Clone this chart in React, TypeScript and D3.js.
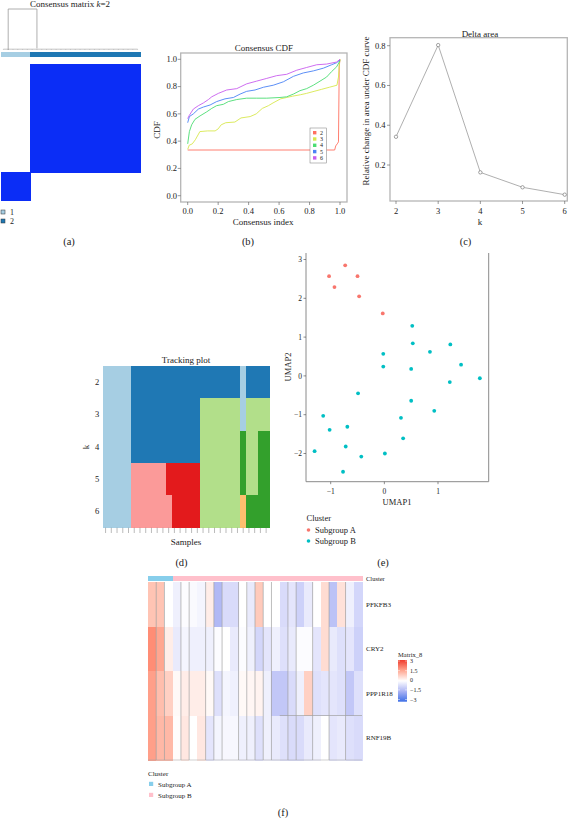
import React from 'react';
import * as d3 from 'd3';

const FONT = '"Liberation Serif", "Times New Roman", serif';

// ---------- (a) consensus matrix, k = 2 ----------
const matrixLabels = [1, 1, 1, 1, 1, 1, 2, 2, 2, 2, 2, 2, 2, 2, 2, 2, 2, 2, 2, 2, 2, 2, 2, 2, 2, 2, 2, 2, 2];
const matrixClusterColors = ['#A6CEE3', '#1F78B4'];
const dendroBranches = [1.5, 7.5]; // merge positions, in sample units
const matrixLegend = ['1', '2'];

// ---------- (b) consensus CDF ----------
const cdfK = ['2', '3', '4', '5', '6'];
const cdfColors = ['#FF7060', '#D8E84E', '#4BDD72', '#4A82F5', '#C85DEE'];
const cdfK2: [number, number][] = [
  [0, 0.335], [0.965, 0.335], [0.972, 0.365], [0.985, 0.385], [0.99, 0.395], [0.995, 0.95], [1, 1],
];
const cdfK3: [number, number][] = [
  [0, 0.34], [0.01, 0.37], [0.03, 0.38], [0.05, 0.41], [0.08, 0.47], [0.13, 0.475], [0.18, 0.475],
  [0.2, 0.49], [0.22, 0.52], [0.25, 0.535], [0.31, 0.54], [0.35, 0.57], [0.41, 0.58], [0.45, 0.6],
  [0.49, 0.64], [0.53, 0.66], [0.56, 0.68], [0.61, 0.71], [0.65, 0.72], [0.69, 0.73], [0.74, 0.74],
  [0.78, 0.75], [0.83, 0.765], [0.88, 0.78], [0.93, 0.795], [0.98, 0.81], [0.99, 0.87], [0.996, 0.97], [1, 1],
];
const cdfK4: [number, number][] = [
  [0, 0.38], [0.011, 0.47], [0.026, 0.52], [0.048, 0.56], [0.081, 0.585], [0.125, 0.615], [0.158, 0.64],
  [0.19, 0.66], [0.234, 0.67], [0.267, 0.69], [0.322, 0.705], [0.387, 0.715], [0.453, 0.715], [0.519, 0.715],
  [0.606, 0.72], [0.65, 0.725], [0.694, 0.745], [0.737, 0.77], [0.781, 0.785], [0.825, 0.81], [0.869, 0.84],
  [0.912, 0.87], [0.945, 0.91], [0.978, 0.945], [1, 0.99],
];
const cdfK5: [number, number][] = [
  [0, 0.535], [0.011, 0.58], [0.037, 0.6], [0.07, 0.635], [0.103, 0.65], [0.147, 0.665], [0.19, 0.69],
  [0.245, 0.71], [0.3, 0.72], [0.344, 0.745], [0.387, 0.765], [0.442, 0.775], [0.497, 0.795], [0.562, 0.81],
  [0.628, 0.835], [0.694, 0.875], [0.759, 0.9], [0.825, 0.915], [0.891, 0.935], [0.945, 0.96], [0.978, 0.975], [1, 0.995],
];
const cdfK6: [number, number][] = [
  [0, 0.565], [0.011, 0.59], [0.037, 0.635], [0.07, 0.66], [0.103, 0.68], [0.136, 0.705], [0.158, 0.725],
  [0.201, 0.75], [0.256, 0.775], [0.322, 0.785], [0.387, 0.82], [0.453, 0.84], [0.519, 0.86], [0.584, 0.88],
  [0.65, 0.89], [0.716, 0.92], [0.781, 0.94], [0.847, 0.96], [0.912, 0.965], [0.978, 0.98], [1, 1],
];
const cdfSeries = [cdfK2, cdfK3, cdfK4, cdfK5, cdfK6];
const cdfTicks = [0, 0.2, 0.4, 0.6, 0.8, 1.0];

// ---------- (c) delta area ----------
const deltaK = [2, 3, 4, 5, 6];
const deltaValues = [0.342, 0.803, 0.163, 0.088, 0.051];
const deltaTicks = [0.2, 0.4, 0.6, 0.8];

// ---------- (d) tracking plot ----------
const trackK = [2, 3, 4, 5, 6];
const trackK2 = [1, 1, 1, 1, 1, 2, 2, 2, 2, 2, 2, 2, 2, 2, 2, 2, 2, 2, 2, 2, 2, 2, 2, 2, 1, 2, 2, 2, 2];
const trackK3 = [1, 1, 1, 1, 1, 2, 2, 2, 2, 2, 2, 2, 2, 2, 2, 2, 2, 3, 3, 3, 3, 3, 3, 3, 1, 3, 3, 3, 3];
const trackK4 = [1, 1, 1, 1, 1, 2, 2, 2, 2, 2, 2, 2, 2, 2, 2, 2, 2, 3, 3, 3, 3, 3, 3, 3, 4, 3, 3, 4, 4];
const trackK5 = [1, 1, 1, 1, 1, 5, 5, 5, 5, 5, 5, 6, 6, 6, 6, 6, 6, 3, 3, 3, 3, 3, 3, 3, 4, 3, 3, 4, 4];
const trackK6 = [1, 1, 1, 1, 1, 5, 5, 5, 5, 5, 5, 5, 6, 6, 6, 6, 6, 3, 3, 3, 3, 3, 3, 3, 7, 4, 4, 4, 4];
const trackRows = [trackK2, trackK3, trackK4, trackK5, trackK6];
const trackColors = ['#A6CEE3', '#1F78B4', '#B2DF8A', '#33A02C', '#FB9A99', '#E31A1C', '#FDBF6F'];

// ---------- (e) UMAP ----------
const umapA: [number, number][] = [
  [-1.03, 2.57], [-0.93, 2.29], [-0.73, 2.85], [-0.5, 2.57], [-0.47, 2.05], [-0.03, 1.61],
];
const umapB: [number, number][] = [
  [0.52, 1.29], [0.53, 0.84], [0.85, 0.62], [1.23, 0.81], [-0.02, 0.57], [-0.02, 0.24], [0.5, 0.18],
  [1.43, 0.29], [1.78, -0.06], [1.22, -0.16], [-0.49, -0.45], [0.5, -0.64], [0.93, -0.9], [0.31, -1.08],
  [-1.14, -1.03], [-1.02, -1.39], [-0.69, -1.31], [0.35, -1.61], [-0.72, -1.82], [-1.3, -1.94],
  [-0.43, -2.08], [0.01, -2.0], [-0.77, -2.47],
];
const umapXTicks = [-1, 0, 1];
const umapYTicks = [-2, -1, 0, 1, 2, 3];
const subgroupNames = ['Subgroup A', 'Subgroup B'];
const umapColors = ['#F8766D', '#00BFC4'];

// ---------- (f) heatmap ----------
const genes = ['PFKFB3', 'CRY2', 'PPP1R18', 'RNF19B'];
const heatCluster = ['A', 'A', 'A', ...Array(23).fill('B')];
const rowPFKFB3 = [1.0, 1.0, 0, -0.3, -0.05, -0.1, -0.2, 0.3, -1.4, -0.7, -0.7, 0, -0.4, 0.9, 0, 0, -0.7, -0.5, -0.9, -0.4, 0, 0.6, -1.2, 0.5, -0.3, -0.8];
const rowCRY2 = [1.9, 1.5, 0.3, -0.4, -0.2, -0.3, -0.3, -0.3, -0.05, 0, -0.4, -0.05, -0.3, -0.8, -0.5, -0.3, -0.6, -0.4, -0.05, -0.05, -0.5, 0.6, -0.4, -0.6, -0.5, -0.9];
const rowPPP1R18 = [1.6, 1.1, 0.8, 0.1, 0.3, 0.3, 0.3, 0.1, -0.6, -0.2, -0.3, 0.1, 0.15, 0.2, -0.3, -1.1, -1.1, -0.7, -0.3, 0.8, -0.6, -0.5, -0.5, -0.6, -1.1, -0.6];
const rowRNF19B = [1.6, 1.2, 1.2, 0.05, 0.4, 0, 0.4, -0.5, -0.2, -0.15, -0.15, -0.3, -0.3, -0.6, -0.3, -0.4, -0.6, -0.7, -0.7, -0.4, -0.3, 0, -0.5, -0.4, -0.6, -0.7];
const heatRows = [rowPFKFB3, rowCRY2, rowPPP1R18, rowRNF19B];
const heatSplits = [1, 2, 4, 5, 7, 8, 9, 11, 12, 13, 14, 15, 17, 18, 20, 22, 24];
const heatLegendTicks = [3, 1.5, 0, -1.5, -3];
const annoColors: Record<string, string> = { A: '#87CEEB', B: '#FFC0CB' };

const gray = '#9a9a9a';

function PanelA() {
  const n = matrixLabels.length;
  const x = d3.scaleBand<number>().domain(d3.range(n)).range([1, 140]);
  const rowOrder = [...d3.range(n).filter(i => matrixLabels[i] === 2), ...d3.range(n).filter(i => matrixLabels[i] === 1)];
  const y = d3.scaleBand<number>().domain(rowOrder).range([64, 200]);
  const fill = d3.scaleLinear<string>().domain([0, 1]).range(['#ffffff', '#0B2DF6']);
  const dh = d3.scaleLinear().domain([0, 1]).range([50, 9]);
  const bw = x.bandwidth();
  const pos = (p: number) => (x(0) as number) + p * bw;
  return (
    <g>
      <text x={70} y={7} textAnchor="middle" fontSize={9}>
        Consensus matrix <tspan fontStyle="italic">k</tspan>=2
      </text>
      {/* dendrogram */}
      <g stroke={gray} strokeWidth={0.8} fill="none">
        <path d={`M${pos(dendroBranches[0])},${dh(0)}V${dh(1)}H${pos(dendroBranches[1])}V${dh(0.04)}`} />
        <line x1={pos(0.5)} x2={pos(n - 0.5)} y1={dh(0.02)} y2={dh(0.02)} strokeWidth={0.6} />
        {d3.range(n).map(i => (
          <line key={i} x1={pos(i + 0.5)} x2={pos(i + 0.5)} y1={dh(0)} y2={dh(0.02)} strokeWidth={0.4} />
        ))}
      </g>
      {/* cluster colour bar */}
      <g shapeRendering="crispEdges">
        {matrixLabels.map((l, i) => (
          <rect key={i} x={x(i)} y={52} width={bw + 0.6} height={5} fill={matrixClusterColors[l - 1]} />
        ))}
      </g>
      {/* matrix cells */}
      <g shapeRendering="crispEdges">
        {rowOrder.map(r =>
          d3.range(n).map(c => {
            const v = matrixLabels[r] === matrixLabels[c] ? 1 : 0;
            if (v === 0) return null;
            return (
              <rect key={`${r}-${c}`} x={x(c)} y={y(r)} width={bw + 1} height={y.bandwidth() + 1} fill={fill(v)} />
            );
          })
        )}
      </g>
      {matrixLegend.map((t, i) => (
        <g key={t} transform={`translate(0,${210 + i * 9})`}>
          <rect x={1} y={0} width={4} height={4} fill={matrixClusterColors[i]} stroke="#333" strokeWidth={0.5} />
          <text x={10} y={4.5} fontSize={8}>{t}</text>
        </g>
      ))}
      <text x={69} y={244.5} textAnchor="middle" fontSize={10.5}>(a)</text>
    </g>
  );
}

function PanelB() {
  const x = d3.scaleLinear().domain([0, 1]).range([187.7, 340]);
  const y = d3.scaleLinear().domain([0, 1]).range([195.7, 59.3]);
  const line = d3.line<[number, number]>().x(d => x(d[0])).y(d => y(d[1]));
  const box = { x0: 180.7, x1: 347, y0: 53, y1: 202 };
  return (
    <g>
      <text x={264} y={51} textAnchor="middle" fontSize={9}>Consensus CDF</text>
      <rect x={box.x0} y={box.y0} width={box.x1 - box.x0} height={box.y1 - box.y0} fill="none" stroke="#b5b5b5" strokeWidth={1.3} />
      {cdfSeries.map((s, i) => (
        <path key={i} d={line(s) as string} fill="none" stroke={cdfColors[i]} strokeWidth={0.9} />
      ))}
      {cdfTicks.map(t => (
        <g key={`x${t}`}>
          <line x1={x(t)} x2={x(t)} y1={box.y1} y2={box.y1 + 3} stroke="#555" strokeWidth={0.6} />
          <text x={x(t)} y={213.8} textAnchor="middle" fontSize={8.5}>{t.toFixed(1)}</text>
        </g>
      ))}
      {cdfTicks.map(t => (
        <g key={`y${t}`}>
          <line x1={box.x0} x2={box.x0 - 3} y1={y(t)} y2={y(t)} stroke="#555" strokeWidth={0.6} />
          <text x={177} y={y(t) + 2.9} textAnchor="end" fontSize={8.5}>{t.toFixed(1)}</text>
        </g>
      ))}
      <text x={263} y={225} textAnchor="middle" fontSize={9}>Consensus index</text>
      <text transform={`translate(160,130) rotate(-90)`} textAnchor="middle" fontSize={9}>CDF</text>
      {/* legend */}
      <rect x={310} y={128} width={16.7} height={35} fill="#fff" stroke="#777" strokeWidth={0.5} />
      {cdfK.map((k, i) => (
        <g key={k} transform={`translate(313,${132.7 + i * 6.3})`}>
          <rect x={0} y={-1.7} width={3.4} height={3.4} fill={cdfColors[i]} />
          <text x={7} y={2.1} fontSize={6}>{k}</text>
        </g>
      ))}
      <text x={248} y={244.5} textAnchor="middle" fontSize={10.5}>(b)</text>
    </g>
  );
}

function PanelC() {
  const x = d3.scaleLinear().domain([2, 6]).range([396, 564.7]);
  const y = d3.scaleLinear().domain([0, 0.8]).range([204.8, 45.7]);
  const pts = deltaK.map((k, i) => [k, deltaValues[i]] as [number, number]);
  const line = d3.line<[number, number]>().x(d => x(d[0])).y(d => y(d[1]));
  const box = { x0: 390, x1: 567.3, y0: 37.7, y1: 201 };
  return (
    <g>
      <text x={480} y={36.5} textAnchor="middle" fontSize={9}>Delta area</text>
      <rect x={box.x0} y={box.y0} width={box.x1 - box.x0} height={box.y1 - box.y0} fill="none" stroke="#b5b5b5" strokeWidth={1.3} />
      <path d={line(pts) as string} fill="none" stroke="#9a9a9a" strokeWidth={0.8} />
      {pts.map((p, i) => (
        <circle key={i} cx={x(p[0])} cy={y(p[1])} r={1.7} fill="#fff" stroke="#666" strokeWidth={0.6} />
      ))}
      {deltaK.map(k => (
        <g key={k}>
          <line x1={x(k)} x2={x(k)} y1={box.y1} y2={box.y1 + 3} stroke="#555" strokeWidth={0.6} />
          <text x={x(k)} y={213.8} textAnchor="middle" fontSize={8.5}>{k}</text>
        </g>
      ))}
      {deltaTicks.map(t => (
        <g key={t}>
          <line x1={box.x0} x2={box.x0 - 3} y1={y(t)} y2={y(t)} stroke="#555" strokeWidth={0.6} />
          <text x={385.5} y={y(t) + 2.9} textAnchor="end" fontSize={8.5}>{t.toFixed(1)}</text>
        </g>
      ))}
      <text x={480} y={225} textAnchor="middle" fontSize={9}>k</text>
      <text transform={`translate(368.5,111) rotate(-90)`} textAnchor="middle" fontSize={9}>
        Relative change in area under CDF curve
      </text>
      <text x={465.5} y={244.5} textAnchor="middle" fontSize={10.5}>(c)</text>
    </g>
  );
}

function PanelD() {
  const n = trackK2.length;
  const x = d3.scaleBand<number>().domain(d3.range(n)).range([102.7, 269]);
  const y = d3.scaleBand<number>().domain(trackK).range([366, 527.7]);
  const bw = x.bandwidth();
  return (
    <g>
      <text x={186} y={363} textAnchor="middle" fontSize={9}>Tracking plot</text>
      <g shapeRendering="crispEdges">
        {trackRows.map((row, ri) =>
          row.map((c, i) => (
            <rect key={`${ri}-${i}`} x={x(i)} y={y(trackK[ri])} width={bw + 0.6} height={y.bandwidth() + 0.6} fill={trackColors[c - 1]} />
          ))
        )}
      </g>
      {d3.range(n).map(i => (
        <line key={i} x1={(x(i) as number) + bw / 2} x2={(x(i) as number) + bw / 2} y1={527.7} y2={533} stroke="#777" strokeWidth={0.5} />
      ))}
      {trackK.map(k => (
        <text key={k} x={97} y={(y(k) as number) + y.bandwidth() / 2 + 2.9} textAnchor="middle" fontSize={8.5}>{k}</text>
      ))}
      <text transform="translate(89,447) rotate(-90)" textAnchor="middle" fontSize={9}>k</text>
      <text x={186} y={545} textAnchor="middle" fontSize={9}>Samples</text>
      <text x={181.5} y={565.5} textAnchor="middle" fontSize={10.5}>(d)</text>
    </g>
  );
}

function PanelE() {
  const x = d3.scaleLinear().domain([-1, 1]).range([330.7, 438]);
  const y = d3.scaleLinear().domain([-2, 3]).range([453.5, 259.5]);
  const box = { x0: 306, x1: 488.7, y0: 253, y1: 481.7 };
  return (
    <g>
      <g stroke="#8a8a8a" strokeWidth={1}>
        <line x1={box.x0} x2={box.x0} y1={box.y0} y2={box.y1} />
        <line x1={box.x0} x2={box.x1} y1={box.y1} y2={box.y1} />
        <line x1={box.x1} x2={box.x1} y1={box.y0} y2={box.y1} />
      </g>
      {umapYTicks.map(t => (
        <g key={t}>
          <line x1={box.x0} x2={box.x0 - 2.5} y1={y(t)} y2={y(t)} stroke="#444" strokeWidth={0.6} />
          <text x={302} y={y(t) + 2.7} textAnchor="end" fontSize={7.5}>{t < 0 ? `\u2212${-t}` : t}</text>
        </g>
      ))}
      {umapXTicks.map(t => (
        <g key={t}>
          <line x1={x(t)} x2={x(t)} y1={box.y1} y2={box.y1 + 2.5} stroke="#444" strokeWidth={0.6} />
          <text x={x(t)} y={493.5} textAnchor="middle" fontSize={7.5}>{t < 0 ? `\u2212${-t}` : t}</text>
        </g>
      ))}
      {umapA.map((p, i) => (
        <circle key={`a${i}`} cx={x(p[0])} cy={y(p[1])} r={1.9} fill={umapColors[0]} />
      ))}
      {umapB.map((p, i) => (
        <circle key={`b${i}`} cx={x(p[0])} cy={y(p[1])} r={1.9} fill={umapColors[1]} />
      ))}
      <text x={397} y={505} textAnchor="middle" fontSize={8.5}>UMAP1</text>
      <text transform={`translate(290.5,367) rotate(-90)`} textAnchor="middle" fontSize={8.5}>UMAP2</text>
      <text x={306.5} y={521.3} fontSize={8.5}>Cluster</text>
      {subgroupNames.map((s, i) => (
        <g key={s} transform={`translate(0,${530 + i * 11})`}>
          <circle cx={308.5} cy={0} r={1.8} fill={umapColors[i]} />
          <text x={315} y={3} fontSize={8.5}>{s}</text>
        </g>
      ))}
      <text x={383} y={565.5} textAnchor="middle" fontSize={10.5}>(e)</text>
    </g>
  );
}

function PanelF() {
  const nCols = heatCluster.length;
  const x = d3.scaleBand<number>().domain(d3.range(nCols)).range([148, 362]);
  const y = d3.scaleBand<string>().domain(genes).range([582, 760]);
  const color = d3.scaleLinear<string>().domain([-3, 0, 3]).range(['#3E6FE6', '#ffffff', '#EF3B2C']).interpolate(d3.interpolateLab);
  const bw = x.bandwidth();
  const legY = d3.scaleLinear().domain([3, -3]).range([661, 699.5]);
  const xb = (i: number) => (x(0) as number) + i * bw;
  return (
    <g>
      <defs>
        <linearGradient id="matrix8" x1="0" y1="0" x2="0" y2="1">
          {heatLegendTicks.map((t, i) => (
            <stop key={t} offset={`${(i / (heatLegendTicks.length - 1)) * 100}%`} stopColor={color(t)} />
          ))}
        </linearGradient>
      </defs>
      <g shapeRendering="crispEdges">
        {heatCluster.map((c, i) => (
          <rect key={i} x={x(i)} y={576} width={bw + 0.6} height={4.5} fill={annoColors[c]} />
        ))}
        {heatRows.map((row, ri) =>
          row.map((v, i) => (
            <rect key={`${ri}-${i}`} x={x(i)} y={y(genes[ri])} width={bw + 0.6} height={y.bandwidth() + 0.6} fill={color(v)} />
          ))
        )}
      </g>
      <g stroke="#a0a0a0" strokeWidth={0.7}>
        {heatSplits.map(s => (
          <line key={s} x1={xb(s)} x2={xb(s)} y1={582} y2={760} />
        ))}
        <line x1={xb(16)} x2={362} y1={y(genes[3])} y2={y(genes[3])} />
        <line x1={148} x2={362} y1={760} y2={760} strokeWidth={0.5} />
      </g>
      <text x={366} y={580.5} fontSize={6.5}>Cluster</text>
      {genes.map(g => (
        <text key={g} x={366} y={(y(g) as number) + y.bandwidth() / 2 + 2.4} fontSize={7}>{g}</text>
      ))}
      <text x={398} y={656.5} fontSize={6.5}>Matrix_8</text>
      <rect x={398} y={660} width={9} height={41.7} fill="url(#matrix8)" />
      {heatLegendTicks.map(t => (
        <g key={t}>
          <line x1={398} x2={400} y1={legY(t)} y2={legY(t)} stroke="#fff" strokeWidth={0.5} />
          <line x1={405} x2={407} y1={legY(t)} y2={legY(t)} stroke="#fff" strokeWidth={0.5} />
          <text x={410} y={legY(t) + 2.1} fontSize={6}>{t < 0 ? `\u2212${-t}` : t}</text>
        </g>
      ))}
      <text x={148} y={775.5} fontSize={7}>Cluster</text>
      {subgroupNames.map((s, i) => (
        <g key={s} transform={`translate(0,${784 + i * 11})`}>
          <rect x={149} y={-2.2} width={4.2} height={4.2} fill={annoColors[i === 0 ? 'A' : 'B']} />
          <text x={158} y={2.5} fontSize={7}>{s}</text>
        </g>
      ))}
      <text x={283} y={816} textAnchor="middle" fontSize={10.5}>(f)</text>
    </g>
  );
}

export default function App() {
  return (
    <svg
      width={572}
      height={818}
      style={{ position: 'absolute', left: 0, top: 0, background: '#fff' }}
      fontFamily={FONT}
      fill="#222"
    >
      <rect width={572} height={818} fill="#fff" />
      <PanelA />
      <PanelB />
      <PanelC />
      <PanelD />
      <PanelE />
      <PanelF />
    </svg>
  );
}
